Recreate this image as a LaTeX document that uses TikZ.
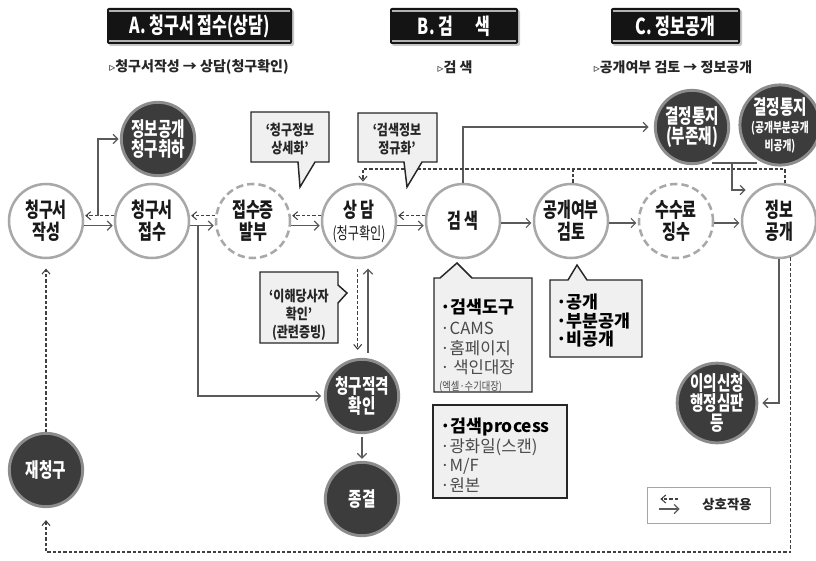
\documentclass[tikz,border=0pt]{standalone}
\usepackage{fontspec}
\setmainfont{Noto Sans CJK KR}
\newfontfamily\kc[FakeStretch=0.82]{Noto Sans CJK KR}
\newfontfamily\kcc[FakeStretch=0.73]{Noto Sans CJK KR}
\newfontfamily\djv{DejaVu Sans}
\usetikzlibrary{arrows.meta,shadows}
\definecolor{ring}{HTML}{A8A8A8}
\definecolor{darkfill}{HTML}{3C3C3C}
\definecolor{darkring}{HTML}{8C8C8C}
\definecolor{lineg}{HTML}{5A5A5A}
\definecolor{boxfill}{HTML}{F0F0F0}
\definecolor{itemg}{HTML}{4A4A4A}
\begin{document}
\begin{tikzpicture}[x=0.75pt,y=-0.75pt,
  wc/.style={circle, draw=ring, line width=1.9pt, fill=white, minimum size=55.5pt, inner sep=0pt, align=center, text=black!90, font=\kcc\bfseries\fontsize{15.5}{16.5}\selectfont},
  dc/.style={wc, dash pattern=on 5.5pt off 3pt},
  kc/.style={circle, draw=darkring, line width=2.2pt, fill=darkfill, minimum size=55pt, inner sep=0pt, align=center, text=white, font=\kcc\bfseries\fontsize{15}{15}\selectfont},
  arr/.style={draw=lineg, line width=0.9pt, -{Straight Barb[length=3.5pt,width=7pt]}, shorten >=1pt},
  darr/.style={draw=black!75, line width=0.8pt, dash pattern=on 2.5pt off 1.5pt, -{Straight Barb[length=3.5pt,width=6pt]}, shorten >=1pt},
  dl/.style={draw=black!75, line width=0.8pt, dash pattern=on 2.5pt off 1.5pt},
  sl/.style={draw=lineg, line width=0.9pt},
  callout/.style={draw=black!85, line width=1.1pt, fill=boxfill},
  ct/.style={font=\kc\bfseries\fontsize{11}{13.5}\selectfont, align=center, text=black!85},
  hdr/.style={fill=black!92, rounded corners=1.5pt, text=white, font=\kcc\bfseries\fontsize{16.5}{18}\selectfont, minimum height=27pt, inner sep=0pt, drop shadow={shadow xshift=1.5pt,shadow yshift=-1.5pt,opacity=0.45}},
  hline/.style={draw=gray!60, line width=1.3pt},
  sub/.style={font=\bfseries\fontsize{10.5}{12}\selectfont, text=black!85},
  ibold/.style={anchor=west, font=\bfseries\fontsize{13}{15}\selectfont, text=black, inner sep=0pt},
  item/.style={anchor=west, font=\fontsize{12.5}{15}\selectfont, text=itemg, inner sep=0pt}
]
\useasboundingbox (0,0) rectangle (816,560);

% main row
\node[wc] (w1) at (46,221) {청구서\\작성};
\node[wc] (w2) at (152,221) {청구서\\접수};
\node[dc] (w3) at (253,221) {접수증\\발부};
\node[wc] (w4) at (359,221) {상 담\\{\mdseries\fontsize{12.5}{14}\selectfont(청구확인)}};
\node[wc] (w5) at (463,221) {검 색};
\node[wc] (w6) at (571,221) {공개여부\\검토};
\node[dc] (w7) at (676,221) {수수료\\징수};
\node[wc] (w8) at (779,221) {정보\\공개};

% dark circles
\node[kc] (d1) at (158,139) {정보공개\\청구취하};
\node[kc] (d2) at (692,127) {결정통지\\(부존재)};
\node[kc, minimum size=52pt] (d3) at (780,125) {결정통지\\[-1pt]{\fontsize{10}{10}\selectfont(공개부분공개}\\[-2pt]{\fontsize{10}{10}\selectfont 비공개)}};
\node[kc] (d4) at (362,396) {청구적격\\확인};
\node[kc] (d5) at (362,499) {종결};
\node[kc] (d6) at (46,470) {재청구};
\node[kc] (d7) at (717,403) {이의신청\\행정심판\\등};

% main-row connectors
\foreach \a/\b in {w1/w2,w2/w3,w3/w4,w4/w5} {
  \draw[arr] (\a.-7) -- (\b.187);
  \draw[darr] (\b.172) -- (\a.8);
}
\foreach \a/\b in {w5/w6,w6/w7,w7/w8} {
  \draw[arr] (\a.-3) -- (\b.183);
}

% branches
\coordinate (b1) at (98,216);
\draw[arr] (b1) |- (d1.west);
\coordinate (b2) at (198,225.5);
\draw[arr, shorten >=2pt] (b2) |- (d4.west);
\draw[darr, shorten <=7pt, shorten >=6pt] ([xshift=-1pt]w4.south) -- ([xshift=-1pt]w4.south |- d4.north);
\draw[arr, shorten <=4pt, shorten >=7pt] ([xshift=4.5pt]d4.north) -- ([xshift=4.5pt]d4.north |- w4.south);
\draw[arr, shorten <=2pt, shorten >=1.5pt] (d4.south) -- (d5.north);
\draw[arr, shorten >=4pt] (w5.north) |- (d2.west);

% feedback dashed line
\coordinate (fb) at (0,169);
\draw[darr] (w8.81) -- (w8.81 |- fb) -- (w4.84 |- fb) -- (w4.84);
\draw[dl] (w6.87) -- (w6.87 |- fb);

% decision merge
\coordinate (j1) at (712,163);
\coordinate (j2) at (757,163);
\coordinate (j3) at (732,163);
\coordinate (j4) at (747,190);
\draw[sl] (j1) -- (j2);
\draw[arr] (j3) |- (j4);

% to appeal
\draw[arr, shorten >=3pt] (w8.south) |- (d7.east);

% big loop
\coordinate (lb) at (0,552);
\draw[darr, shorten >=9pt] (w8.-72) -- (w8.-72 |- lb) -- (d6.south |- lb) -- (d6.south);
\draw[darr, shorten >=7pt] (d6.north) -- (w1.south);

% callouts
\draw[callout] (251,112) -- (329,112) -- (329,162) -- (315,162) -- (300,187) -- (298,162) -- (251,162) -- cycle;
\node[ct] (c1t) at (290,139) {‘청구정보\\상세화’};
\draw[callout] (358,113) -- (437,113) -- (437,162) -- (422,162) -- (407,187) -- (404,162) -- (358,162) -- cycle;
\node[ct] (c2t) at (397,139) {‘검색정보\\정규화’};
\draw[callout] (260,272) -- (338,272) -- (338,285) -- (347,293) -- (338,303) -- (338,343) -- (260,343) -- cycle;
\node[ct] (c3t) at (299,315) {‘이해당사자\\확인’\\(관련증빙)};

\draw[callout] (434,278) -- (440,278) -- (457,263) -- (472,278) -- (532,278) -- (532,392) -- (434,392) -- cycle;
\node[ibold] (t41) at (440,307) {·검색도구};
\node[item] (t42) at (440,328) {·CAMS};
\node[item] (t43) at (440,348) {·홈페이지};
\node[item] (t44) at (440,367) {· 색인대장};
\node[item, font=\kc\fontsize{8.5}{10}\selectfont] (t45) at (439,387) {(엑셀·수기대장)};

\draw[callout] (433,405) rectangle (567,498);
\node[ibold] (t51) at (440,427) {·검색process};
\node[item] (t52) at (440,447) {·광화일(스캔)};
\node[item] (t53) at (440,466) {·M/F};
\node[item] (t54) at (440,485) {·원본};

\draw[callout] (550,280) -- (568,280) -- (577,265) -- (587,280) -- (642,280) -- (642,357) -- (550,357) -- cycle;
\node[ibold] (t61) at (556,302) {·공개};
\node[ibold] (t62) at (556,321) {·부분공개};
\node[ibold] (t63) at (556,339) {·비공개};

% headers
\node[hdr, minimum width=138.75pt] (hA) at (199.5,26) {A. 청구서 접수(상담)};
\node[hdr, minimum width=96pt] (hB) at (454,26) {B. 검\quad 색};
\node[hdr, minimum width=96.75pt] (hC) at (675.5,26) {C. 정보공개};
\foreach \h in {hA,hB,hC} {
  \draw[hline] ([shift={(1.5pt,-2.5pt)}]\h.north west) -- ([shift={(-1.5pt,-2.5pt)}]\h.north east);
  \draw[hline] ([shift={(1.5pt,2.5pt)}]\h.south west) -- ([shift={(-1.5pt,2.5pt)}]\h.south east);
}
\node[sub] (sA) at (199,67) {{\djv\fontsize{9}{10}\selectfont ▹}청구서작성 → 상담(청구확인)};
\node[sub] (sB) at (455,67) {{\djv\fontsize{9}{10}\selectfont ▹}검 색};
\node[sub] (sC) at (673,67) {{\djv\fontsize{9}{10}\selectfont ▹}공개여부 검토 → 정보공개};

% legend
\node[draw=black!35, line width=0.6pt, minimum width=92.25pt, minimum height=27pt, inner sep=0pt] (lg) at (708.5,505) {};
\node[font=\bfseries\fontsize{10}{12}\selectfont, text=black!85] (lgt) at (727,505) {상호작용};
\coordinate (la1) at (678,499);
\coordinate (la2) at (659,499);
\coordinate (la3) at (659,509);
\coordinate (la4) at (681,509);
\draw[darr] (la1) -- (la2);
\draw[arr] (la3) -- (la4);
\end{tikzpicture}
\end{document}
